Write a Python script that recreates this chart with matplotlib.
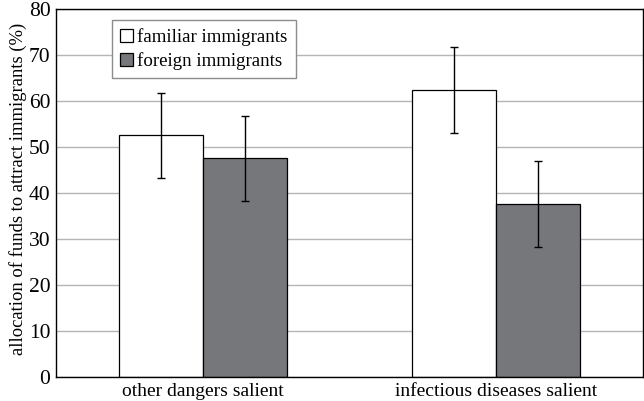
import numpy as np
import matplotlib
matplotlib.use("Agg")
import matplotlib.pyplot as plt

# data
categories = ["other dangers salient", "infectious diseases salient"]
familiar = [52.5, 62.4]
foreign = [47.5, 37.6]
familiar_err = [9.3, 9.3]
foreign_err = [9.3, 9.3]

plt.rcParams["font.family"] = ["Liberation Serif", "DejaVu Serif"]

fig = plt.figure(figsize=(6.44, 4.01), dpi=100)
ax = fig.add_axes([56 / 644, 1 - 377 / 401, 587 / 644, 368 / 401])

x = np.arange(len(categories))
w = 0.286
ax.bar(x - w / 2, familiar, w, color="white", edgecolor="black", linewidth=0.9,
       label="familiar immigrants", zorder=2)
ax.bar(x + w / 2, foreign, w, color="#76777a", edgecolor="black", linewidth=0.9,
       label="foreign immigrants", zorder=2)
ax.errorbar(x - w / 2, familiar, yerr=familiar_err, fmt="none", ecolor="black",
            elinewidth=1, capsize=3, zorder=3)
ax.errorbar(x + w / 2, foreign, yerr=foreign_err, fmt="none", ecolor="black",
            elinewidth=1, capsize=3, zorder=3)

ax.set_xlim(-0.5, 1.5)
ax.set_ylim(0, 80)
ax.set_yticks(range(0, 81, 10))
ax.set_xticks(x)
ax.set_xticklabels(categories, fontsize=14)
ax.tick_params(axis="y", labelsize=15.5, length=0, pad=4)
ax.tick_params(axis="x", length=0, pad=4)
ax.yaxis.grid(True, color="#b5b5b5", linewidth=1)
ax.set_axisbelow(True)
for s in ax.spines.values():
    s.set_linewidth(1)
    s.set_color("black")

ax.set_ylabel("allocation of funds to attract immigrants (%)", fontsize=13.4)
ax.yaxis.set_label_coords(-0.049, 0.512)

leg = ax.legend(loc="upper left", bbox_to_anchor=(0.095, 0.97), fontsize=13.6,
                frameon=True, fancybox=False, edgecolor="#8c8c8c", framealpha=1,
                handlelength=0.65, handleheight=0.65, handletextpad=0.25,
                borderpad=0.45, labelspacing=0.3, borderaxespad=0)
leg.get_frame().set_linewidth(1)

fig.savefig("out.png", dpi=100)
